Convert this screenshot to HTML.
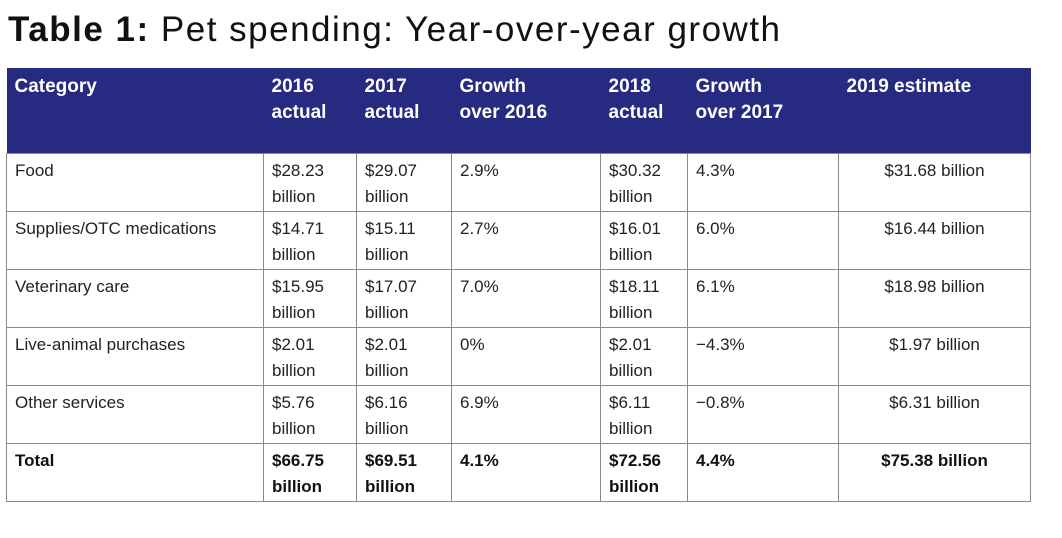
<!DOCTYPE html>
<html><head><meta charset="utf-8"><style>
body{margin:0;width:1062px;height:538px;background:#fff;font-family:"Liberation Sans",sans-serif;color:#222;position:relative;overflow:hidden}
#title{position:absolute;left:8px;top:8px;font-size:35px;line-height:44px;color:#111;white-space:nowrap;letter-spacing:1.5px}
#title b{font-weight:bold}
table{position:absolute;left:6px;top:68px;border-collapse:collapse;table-layout:fixed;width:1024px}
th{background:#262a80;color:#fff;font-size:19px;font-weight:bold;text-align:left;vertical-align:top;padding:6px 8px 0 8px;line-height:26px;height:79px;border:none}
td{border:1px solid #8a8a8a;font-size:17px;line-height:26px;vertical-align:top;padding:4px 8px 0 8px;height:53px;white-space:nowrap}
td.c{text-align:center}
tr.tot td{font-weight:bold;color:#111}
</style></head><body>
<div id="title"><b>Table 1:</b> Pet spending: Year-over-year growth</div>
<table>
<colgroup><col style="width:257px"><col style="width:93px"><col style="width:95px"><col style="width:149px"><col style="width:87px"><col style="width:151px"><col style="width:192px"></colgroup>
<tr><th>Category</th><th>2016<br>actual</th><th>2017<br>actual</th><th>Growth<br>over 2016</th><th>2018<br>actual</th><th>Growth<br>over 2017</th><th style="padding-left:8px">2019 estimate</th></tr>
<tr><td>Food</td><td>$28.23<br>billion</td><td>$29.07<br>billion</td><td>2.9%</td><td>$30.32<br>billion</td><td>4.3%</td><td class="c">$31.68 billion</td></tr>
<tr><td>Supplies/OTC medications</td><td>$14.71<br>billion</td><td>$15.11<br>billion</td><td>2.7%</td><td>$16.01<br>billion</td><td>6.0%</td><td class="c">$16.44 billion</td></tr>
<tr><td>Veterinary care</td><td>$15.95<br>billion</td><td>$17.07<br>billion</td><td>7.0%</td><td>$18.11<br>billion</td><td>6.1%</td><td class="c">$18.98 billion</td></tr>
<tr><td>Live-animal purchases</td><td>$2.01<br>billion</td><td>$2.01<br>billion</td><td>0%</td><td>$2.01<br>billion</td><td>−4.3%</td><td class="c">$1.97 billion</td></tr>
<tr><td>Other services</td><td>$5.76<br>billion</td><td>$6.16<br>billion</td><td>6.9%</td><td>$6.11<br>billion</td><td>−0.8%</td><td class="c">$6.31 billion</td></tr>
<tr class="tot"><td>Total</td><td>$66.75<br>billion</td><td>$69.51<br>billion</td><td>4.1%</td><td>$72.56<br>billion</td><td>4.4%</td><td class="c">$75.38 billion</td></tr>
</table>
</body></html>
